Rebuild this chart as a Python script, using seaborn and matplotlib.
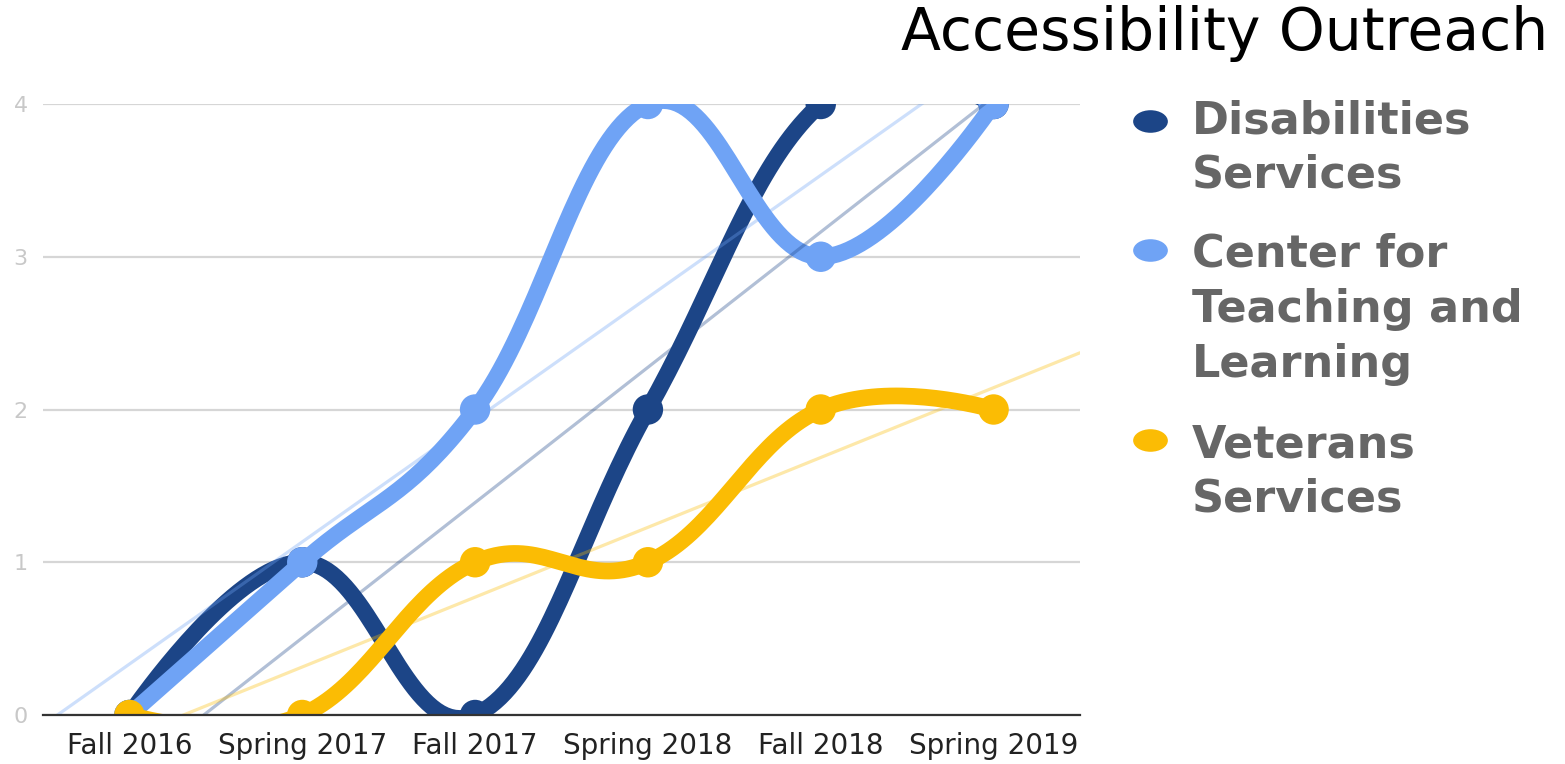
import numpy as np
import pandas as pd
import matplotlib
matplotlib.use("Agg")
import matplotlib.pyplot as plt
from matplotlib.lines import Line2D
from matplotlib.path import Path
import seaborn as sns

# Data
terms = ["Fall 2016", "Spring 2017", "Fall 2017", "Spring 2018", "Fall 2018", "Spring 2019"]
disabilities = [0, 1, 0, 2, 4, 4]
teaching = [0, 1, 2, 4, 3, 4]
veterans = [0, 0, 1, 1, 2, 2]

series_names = ["Disabilities\nServices", "Center for\nTeaching and\nLearning", "Veterans\nServices"]
series_colors = ["#1c4587", "#6fa3f5", "#fbbc04"]


def smooth_curve(xs, ys, s=0.2, n=40):
    # cubic bezier through the points (like the "function" curve type)
    pts = np.column_stack([xs, ys]).astype(float)
    out = []
    for i in range(len(pts) - 1):
        p0, p1 = pts[i], pts[i + 1]
        c1 = p0 + s * (p1 - pts[i - 1]) if i > 0 else p0
        c2 = p1 - s * (pts[i + 2] - p0) if i + 2 < len(pts) else p1
        t = np.linspace(0, 1, n)[:, None]
        seg = ((1 - t) ** 3) * p0 + 3 * ((1 - t) ** 2) * t * c1 + 3 * (1 - t) * t ** 2 * c2 + t ** 3 * p1
        out.append(seg if i == 0 else seg[1:])
    out = np.vstack(out)
    return out[:, 0], out[:, 1]


sns.set_style("white")
plt.rcParams['font.family'] = ['DejaVu Sans']

fig = plt.figure(figsize=(15.65, 7.64), dpi=100)
ax = fig.add_axes([43 / 1565, 1 - 715 / 764, (1080 - 43) / 1565, (715 - 104) / 764])

x = np.arange(len(terms))
ax.set_xlim(-0.5, len(terms) - 0.5)
ax.set_ylim(0, 4)

for i, (vals, col) in enumerate(zip([disabilities, teaching, veterans], series_colors)):
    df = pd.DataFrame({"x": x, "y": vals})
    sx, sy = smooth_curve(df["x"], df["y"])
    ax.plot(sx, sy, color=col, lw=12, solid_capstyle="round", zorder=2 + i)
    sns.scatterplot(data=df, x="x", y="y", color=col, s=480, edgecolor="none", ax=ax, zorder=2 + i, legend=False)

# linear trendlines across the full axis
for vals, col in zip([disabilities, teaching, veterans], series_colors):
    sns.regplot(x=x, y=np.array(vals, dtype=float), scatter=False, ci=None, truncate=False, ax=ax,
                line_kws=dict(color=col, lw=2.3, alpha=0.34, zorder=6))

ax.set_xlim(-0.5, len(terms) - 0.5)
ax.set_ylim(0, 4)
ax.set_xticks(x)
ax.set_xticklabels(terms, fontsize=20, color="#222222")
ax.set_yticks([0, 1, 2, 3, 4])
ax.set_yticklabels(["0", "1", "2", "3", "4"], fontsize=16, color="#c8c8c8")
ax.tick_params(axis="x", length=0, pad=12)
ax.tick_params(axis="y", length=0, pad=11)
ax.set_xlabel("")
ax.set_ylabel("")
ax.grid(axis="y", color="#d6d6d6", lw=1.6)
ax.grid(axis="x", visible=False)
for side in ["top", "right", "left"]:
    ax.spines[side].set_visible(False)
ax.spines["bottom"].set_color("#333333")
ax.spines["bottom"].set_linewidth(1.6)
ax.spines["bottom"].set_zorder(10)

# title
fig.text(1548 / 1565, 1 - 50 / 764, "Accessibility Outreach", ha="right", va="baseline",
         fontsize=42, color="#000000")

# legend, drawn by hand so the marker sits on the first line
circle = Path.unit_circle()
oval = Path(circle.vertices * [1.0, 0.65], circle.codes)
legend_marker_y = [121, 250, 440]
legend_first_baseline = [133, 267, 457]
line_step = 55
for name, col, my, by in zip(series_names, series_colors, legend_marker_y, legend_first_baseline):
    fig.add_artist(Line2D([1150 / 1565], [1 - my / 764], marker=oval, markersize=25, color=col,
                          markeredgewidth=0, transform=fig.transFigure))
    for k, line in enumerate(name.split("\n")):
        fig.text(1192 / 1565, 1 - (by + k * line_step) / 764, line, ha="left", va="baseline",
                 fontsize=32, fontweight="bold", color="#666666")

fig.savefig("out.png", dpi=100)
